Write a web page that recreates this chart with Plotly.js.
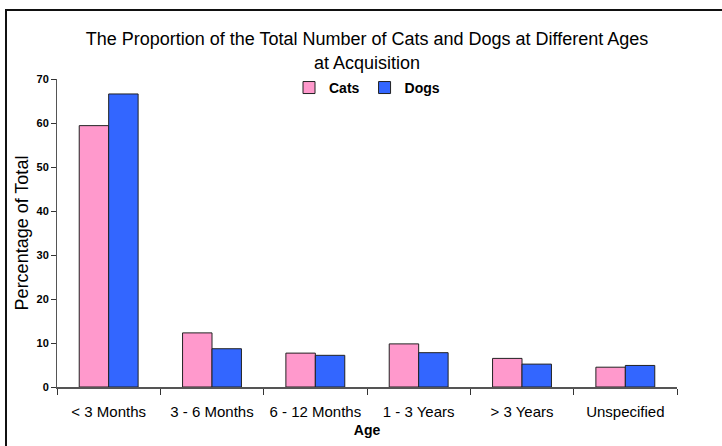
<!DOCTYPE html>
<html>
<head>
<meta charset="utf-8">
<script src="https://cdn.plot.ly/plotly-3.0.1.min.js"></script>
<style>
  html, body { margin: 0; padding: 0; background: #fff; overflow: hidden; }
  #wrap { position: relative; width: 722px; height: 446px; }
  #chart { width: 722px; height: 446px; }
  #frame {
    position: absolute; left: 5px; top: 9px; width: 800px; height: 500px;
    border-left: 2px solid #111; border-top: 2px solid #111; pointer-events: none;
  }
</style>
</head>
<body>
<div id="wrap">
  <div id="chart"></div>
  <div id="frame"></div>
</div>
<script>
// Age at acquisition groups
const ageGroups = ['< 3 Months', '3 - 6 Months', '6 - 12 Months', '1 - 3 Years', '> 3 Years', 'Unspecified'];
// Percentage of all cats / dogs in each group
const catsPct = [59.4, 12.3, 7.7, 9.8, 6.5, 4.5];
const dogsPct = [66.6, 8.7, 7.2, 7.8, 5.2, 4.9];
const yTicks = [0, 10, 20, 30, 40, 50, 60, 70];

const FONT = 'Arial, "Liberation Sans", sans-serif';

const traces = [
  {
    type: 'bar', name: 'Cats', x: ageGroups, y: catsPct,
    marker: { color: '#FF99CC', line: { color: '#222', width: 1 } },
    hoverinfo: 'x+y'
  },
  {
    type: 'bar', name: 'Dogs', x: ageGroups, y: dogsPct,
    marker: { color: '#3366FF', line: { color: '#222', width: 1 } },
    hoverinfo: 'x+y'
  }
];

const layout = {
  width: 722, height: 446,
  margin: { l: 57, r: 45, t: 79, b: 59, autoexpand: false },
  paper_bgcolor: '#fff', plot_bgcolor: '#fff',
  font: { family: FONT, color: '#000' },
  barmode: 'group', bargap: 0.43, bargroupgap: 0,
  title: {
    text: 'The Proportion of the Total Number of Cats and Dogs at Different Ages<br>at Acquisition',
    font: { family: FONT, size: 18, color: '#000' },
    xref: 'paper', x: 0.5, xanchor: 'center',
    yref: 'container', y: 0.898, yanchor: 'middle'
  },
  showlegend: true,
  legend: {
    orientation: 'h', xref: 'paper', x: 0.5, xanchor: 'center',
    yref: 'paper', y: 0.971, yanchor: 'middle',
    font: { family: FONT, size: 14, color: '#000', weight: 'bold' },
    itemwidth: 30, bgcolor: 'rgba(0,0,0,0)'
  },
  xaxis: {
    type: 'category',
    tickson: 'boundaries', ticks: 'outside', ticklen: 6, tickcolor: '#333', tickwidth: 1,
    showline: true, linecolor: '#555', linewidth: 1.5,
    showgrid: false, zeroline: false,
    tickfont: { family: FONT, size: 15, color: '#000' },
    ticklabelstandoff: 10,
    title: { text: 'Age', font: { family: FONT, size: 14, color: '#000', weight: 'bold' }, standoff: 6 },
    fixedrange: true
  },
  yaxis: {
    range: [0, 70], tickvals: yTicks, ticktext: yTicks.map(String),
    ticks: 'outside', ticklen: 5, tickcolor: '#333', tickwidth: 1,
    showline: true, linecolor: '#555', linewidth: 1,
    showgrid: false, zeroline: false,
    tickfont: { family: FONT, size: 11, color: '#000', weight: 'bold' },
    title: { text: 'Percentage of Total', font: { family: FONT, size: 18, color: '#000' }, standoff: 3 },
    fixedrange: true
  }
};

Plotly.newPlot('chart', traces, layout, { displayModeBar: false, staticPlot: true });
</script>
</body>
</html>
